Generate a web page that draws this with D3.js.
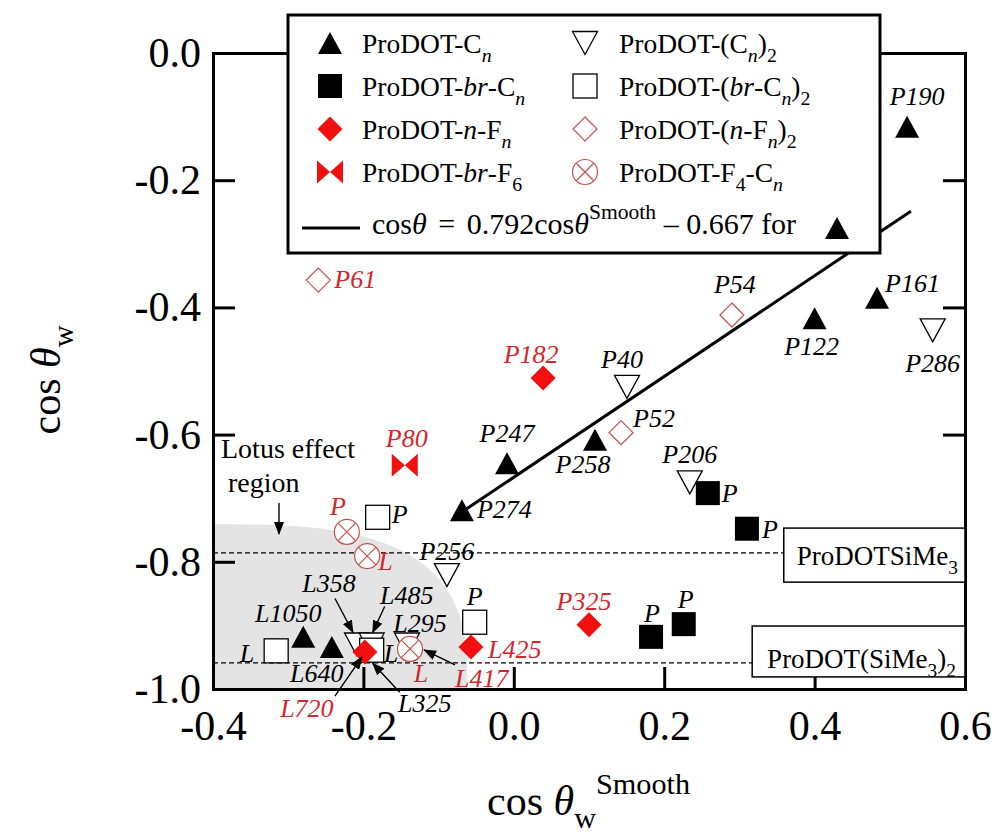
<!DOCTYPE html>
<html>
<head>
<meta charset="utf-8">
<script src="https://cdn.jsdelivr.net/npm/d3@7"></script>
<style>
  body { margin: 0; background: #fff; }
  svg { display: block; font-family: "Liberation Serif", "Times New Roman", serif; }
</style>
</head>
<body>
<svg id="chart" width="997" height="837"></svg>
<script>
// ---- data ----
const xTicks = [-0.4, -0.2, 0.0, 0.2, 0.4, 0.6];
const xTickLabels = ["-0.4", "-0.2", "0.0", "0.2", "0.4", "0.6"];
const yTicks = [0.0, -0.2, -0.4, -0.6, -0.8, -1.0];
const yTickLabels = ["0.0", "-0.2", "-0.4", "-0.6", "-0.8", "-1.0"];

// ProDOT-Cn (filled triangles)
const cnX = [0.523, 0.483, 0.400, -0.009, 0.108, -0.069, -0.280, -0.242];
const cnY = [-0.116, -0.385, -0.417, -0.645, -0.608, -0.719, -0.918, -0.934];
const cnLabels = ["P190", "P161", "P122", "P247", "P258", "P274", "L1050", "L640"];

// ProDOT-(Cn)2 (open down triangles)
const cn2X = [0.557, 0.1505, 0.234, -0.089, -0.2085, -0.189, -0.142];
const cn2Y = [-0.436, -0.525, -0.675, -0.821, -0.930, -0.930, -0.930];
const cn2Labels = ["P286", "P40", "P206", "P256", "L358", "L485", "L295"];

// ProDOT-br-Cn (filled squares)
const brcnX = [0.258, 0.310, 0.1825, 0.226];
const brcnY = [-0.692, -0.748, -0.918, -0.898];
const brcnLabels = ["P", "P", "P", "P"];

// ProDOT-(br-Cn)2 (open squares)
const brcn2X = [-0.316, -0.189, -0.052, -0.181];
const brcn2Y = [-0.940, -0.939, -0.895, -0.730];
const brcn2Labels = ["L", "L", "P", "P"];

// ProDOT-n-Fn (filled red diamonds)
const nfnX = [0.039, 0.100, -0.057, -0.198];
const nfnY = [-0.511, -0.899, -0.934, -0.942];
const nfnLabels = ["P182", "P325", "L425", "L720"];

// ProDOT-(n-Fn)2 (open diamonds)
const nfn2X = [-0.260, 0.290, 0.1426];
const nfn2Y = [-0.357, -0.412, -0.597];
const nfn2Labels = ["P61", "P54", "P52"];

// ProDOT-br-F6 (bowtie)
const brf6X = [-0.145];
const brf6Y = [-0.648];
const brf6Labels = ["P80"];

// ProDOT-F4-Cn (circled cross)
const f4cnX = [-0.222, -0.195, -0.138];
const f4cnY = [-0.753, -0.791, -0.937];
const f4cnLabels = ["P", "L", "L"];

// fit: cos = 0.792 cos_smooth - 0.667, drawn over the triangle range
const fitSlope = 0.792, fitIntercept = -0.667;
const fitRange = [-0.069, 0.528];

// reference levels
const siMe3Level = -0.786;
const siMe3x2Level = -0.959;

// lotus effect region (corner of plot)
const lotusRX = 0.338, lotusRY = 0.259;

// ---- layout ----
const RED = "#f20f0f", LABEL_RED = "#d5262b", PALE = "#c0504d";
const svg = d3.select("#chart");
const x = d3.scaleLinear().domain([-0.4, 0.6]).range([213, 965]);
const y = d3.scaleLinear().domain([-1, 0]).range([689, 53]);

// label offsets in px relative to marker: dx, dy (baseline), anchor, colour, arrow [x1,y1,x2,y2]
const cnPos = [
  {dx: 10, dy: -22, a: "middle"}, {dx: 8, dy: -6, a: "start"}, {dx: -3, dy: 37, a: "middle"},
  {dx: 0, dy: -21, a: "middle"}, {dx: -12, dy: 33, a: "middle"}, {dx: 15, dy: 8, a: "start"},
  {dx: -15, dy: -15, a: "middle"}, {dx: -15, dy: 35, a: "middle"}
];
const cn2Pos = [
  {dx: 0, dy: 42, a: "middle"}, {dx: -5, dy: -19, a: "middle"}, {dx: 0, dy: -19, a: "middle"},
  {dx: 0, dy: -15, a: "middle"},
  {dx: -28, dy: -52, a: "middle", arr: [-22, -46, -4, -12]},
  {dx: 35, dy: -40, a: "middle", arr: [13, -38, 1, -12]},
  {dx: 13, dy: -12, a: "middle"}
];
const brcnPos = [
  {dx: 14, dy: 9, a: "start"}, {dx: 15, dy: 9, a: "start"},
  {dx: 1, dy: -15, a: "middle"}, {dx: 2, dy: -16, a: "middle"}
];
const brcn2Pos = [
  {dx: -22, dy: 11, a: "end"}, {dx: 12, dy: 12, a: "start"},
  {dx: 0, dy: -17, a: "middle"}, {dx: 14, dy: 6, a: "start"}
];
const nfnPos = [
  {dx: -12, dy: -15, a: "middle"}, {dx: -5, dy: -15, a: "middle"}, {dx: 17, dy: 11, a: "start"},
  {dx: -58, dy: 65, a: "middle", arr: [-30, 44, -3, 5]}
];
const nfn2Pos = [
  {dx: 16, dy: 8, a: "start"}, {dx: 3, dy: -22, a: "middle", c: "#000"}, {dx: 12, dy: -6, a: "start", c: "#000"}
];
const brf6Pos = [{dx: 2, dy: -18, a: "middle"}];
const f4cnPos = [
  {dx: -9, dy: -17, a: "middle"}, {dx: 11, dy: 14, a: "start"}, {dx: 11, dy: 33, a: "middle"}
];

const series = [
  {name: "cn2", kind: "triDown", xs: cn2X, ys: cn2Y, labels: cn2Labels, pos: cn2Pos, color: "#000"},
  {name: "brcn2", kind: "sqOpen", xs: brcn2X, ys: brcn2Y, labels: brcn2Labels, pos: brcn2Pos, color: "#000"},
  {name: "cn", kind: "triUp", xs: cnX, ys: cnY, labels: cnLabels, pos: cnPos, color: "#000"},
  {name: "brcn", kind: "sqFill", xs: brcnX, ys: brcnY, labels: brcnLabels, pos: brcnPos, color: "#000"},
  {name: "nfn", kind: "diaFill", xs: nfnX, ys: nfnY, labels: nfnLabels, pos: nfnPos, color: LABEL_RED},
  {name: "nfn2", kind: "diaOpen", xs: nfn2X, ys: nfn2Y, labels: nfn2Labels, pos: nfn2Pos, color: LABEL_RED},
  {name: "brf6", kind: "bowtie", xs: brf6X, ys: brf6Y, labels: brf6Labels, pos: brf6Pos, color: LABEL_RED},
  {name: "f4cn", kind: "otimes", xs: f4cnX, ys: f4cnY, labels: f4cnLabels, pos: f4cnPos, color: LABEL_RED}
];

// extra labels pointing at existing points
const extraNotes = [
  {text: "L325", series: "brcn2", idx: 1, dx: 53, dy: 62, a: "middle", c: "#000", arr: [28, 42, 1, 13]},
  {text: "L417", series: "f4cn", idx: 2, dx: 45, dy: 38, a: "start", c: LABEL_RED, arr: [45, 16, 14, 1]}
];

// arrow head
svg.append("defs").append("marker")
  .attr("id", "arrow")
  .attr("markerUnits", "userSpaceOnUse")
  .attr("markerWidth", 14).attr("markerHeight", 10)
  .attr("refX", 12).attr("refY", 5)
  .attr("orient", "auto")
  .append("path").attr("d", "M0,0L13,5L0,10Z").attr("fill", "#000");

// marker shapes
function drawMarker(g, kind, cx, cy) {
  const m = g.append("g").attr("transform", `translate(${cx},${cy})`);
  if (kind === "triUp") {
    m.append("path").attr("d", "M0,-11L12,11L-12,11Z").attr("fill", "#000");
  } else if (kind === "triDown") {
    m.append("path").attr("d", "M-12.5,-11.5L12.5,-11.5L0,11.5Z")
      .attr("fill", "#fff").attr("stroke", "#000").attr("stroke-width", 1.3);
  } else if (kind === "sqFill") {
    m.append("rect").attr("x", -12).attr("y", -12).attr("width", 24).attr("height", 24).attr("fill", "#000");
  } else if (kind === "sqOpen") {
    m.append("rect").attr("x", -12).attr("y", -12).attr("width", 24).attr("height", 24)
      .attr("fill", "#fff").attr("stroke", "#000").attr("stroke-width", 1.3);
  } else if (kind === "diaFill") {
    m.append("path").attr("d", "M0,-12.5L12.5,0L0,12.5L-12.5,0Z").attr("fill", RED);
  } else if (kind === "diaOpen") {
    m.append("path").attr("d", "M0,-12L12,0L0,12L-12,0Z")
      .attr("fill", "#fff").attr("stroke", PALE).attr("stroke-width", 1.2);
  } else if (kind === "bowtie") {
    m.append("path").attr("d", "M-13,-11.5L0,0L-13,11.5ZM13,-11.5L0,0L13,11.5Z").attr("fill", RED);
  } else if (kind === "otimes") {
    m.append("circle").attr("r", 12.5).attr("fill", "#fff")
      .attr("stroke", PALE).attr("stroke-width", 1.2);
    m.append("path").attr("d", "M-8.5,-8.5L8.5,8.5M8.5,-8.5L-8.5,8.5")
      .attr("stroke", PALE).attr("stroke-width", 1.2);
  }
}

// rich text: parts = [[text, style, dx]], style in "", "it", "sub", "subit", "sup"
function richText(sel, parts, size) {
  let shift = 0;
  parts.forEach(([t, k, dx]) => {
    const ts = sel.append("tspan").text(t);
    let target = 0;
    if (k.startsWith("sub")) target = size * 0.32;
    if (k === "sup") target = -size * 0.5;
    ts.attr("dy", target - shift);
    if (dx) ts.attr("dx", dx);
    shift = target;
    if (k.startsWith("sub") || k === "sup") ts.attr("font-size", size * 0.72);
    if (k.includes("it")) ts.attr("font-style", "italic");
  });
  return sel;
}

// ---- background: lotus region ----
const lotusPts = d3.range(0, 61).map(i => {
  const t = i / 60 * Math.PI / 2;
  return [-0.4 + lotusRX * Math.pow(Math.cos(t), 2 / 3), -1 + lotusRY * Math.pow(Math.sin(t), 2 / 3)];
});
lotusPts.push([-0.4, -1]);
svg.append("path")
  .attr("d", d3.line().x(d => x(d[0])).y(d => y(d[1]))(lotusPts) + "Z")
  .attr("fill", "#e4e4e4");

// dashed reference lines
[siMe3Level, siMe3x2Level].forEach(v => {
  svg.append("line")
    .attr("x1", x(-0.4)).attr("x2", x(0.6))
    .attr("y1", y(v)).attr("y2", y(v))
    .attr("stroke", "#000").attr("stroke-width", 1.2)
    .attr("stroke-dasharray", "5,3");
});

// fit line
svg.append("line")
  .attr("x1", x(fitRange[0])).attr("y1", y(fitSlope * fitRange[0] + fitIntercept))
  .attr("x2", x(fitRange[1])).attr("y2", y(fitSlope * fitRange[1] + fitIntercept))
  .attr("stroke", "#000").attr("stroke-width", 3);

// ---- axes (ticks inward) ----
const axisStyle = g => {
  g.attr("font-family", null);
  g.select(".domain").attr("stroke-width", 3).attr("stroke-linecap", "square");
  g.selectAll(".tick line").attr("stroke-width", 3);
  g.selectAll(".tick text")
    .attr("font-family", "Liberation Serif, Times New Roman, serif")
    .attr("font-size", 42).attr("fill", "#000");
};
svg.append("g")
  .attr("transform", `translate(0,${y(-1)})`)
  .call(d3.axisBottom(x).tickValues(xTicks).tickFormat((d, i) => xTickLabels[i])
    .tickSizeInner(-22).tickSizeOuter(0).tickPadding(21))
  .call(axisStyle);
svg.append("g")
  .attr("transform", `translate(${x(-0.4)},0)`)
  .call(d3.axisLeft(y).tickValues(yTicks).tickFormat((d, i) => yTickLabels[i])
    .tickSizeInner(-22).tickSizeOuter(0).tickPadding(12))
  .call(axisStyle);
svg.append("g")
  .attr("transform", `translate(${x(0.6)},0)`)
  .call(d3.axisRight(y).tickValues(yTicks).tickFormat("").tickSizeInner(-22).tickSizeOuter(0))
  .call(axisStyle);
svg.append("g")
  .attr("transform", `translate(0,${y(0)})`)
  .call(d3.axisTop(x).tickValues(xTicks).tickFormat("").tickSizeInner(-22).tickSizeOuter(0))
  .call(axisStyle);

// ---- markers ----
const marks = svg.append("g");
series.forEach(s => {
  s.xs.forEach((v, i) => drawMarker(marks, s.kind, x(v), y(s.ys[i])));
});

// ---- point labels ----
const labels = svg.append("g").attr("font-style", "italic").attr("font-size", 26);
function drawLabel(text, px, py, p, color) {
  labels.append("text")
    .attr("x", px + p.dx).attr("y", py + p.dy)
    .attr("text-anchor", p.a)
    .attr("fill", p.c || color)
    .text(text);
  if (p.arr) {
    labels.append("line")
      .attr("x1", px + p.arr[0]).attr("y1", py + p.arr[1])
      .attr("x2", px + p.arr[2]).attr("y2", py + p.arr[3])
      .attr("stroke", "#000").attr("stroke-width", 1.4)
      .attr("marker-end", "url(#arrow)");
  }
}
series.forEach(s => {
  s.labels.forEach((t, i) => drawLabel(t, x(s.xs[i]), y(s.ys[i]), s.pos[i], s.color));
});
extraNotes.forEach(n => {
  const s = series.find(d => d.name === n.series);
  drawLabel(n.text, x(s.xs[n.idx]), y(s.ys[n.idx]), n, n.c);
});

// lotus region note
const lotusText = svg.append("text").attr("font-size", 28).attr("fill", "#000");
lotusText.append("tspan").attr("x", 221).attr("y", 458).text("Lotus effect");
lotusText.append("tspan").attr("x", 228).attr("y", 492).text("region");
svg.append("line")
  .attr("x1", 279).attr("y1", 503).attr("x2", 279).attr("y2", 534)
  .attr("stroke", "#000").attr("stroke-width", 1.4)
  .attr("marker-end", "url(#arrow)");

// reference boxes
function refBox(x0, yTop, yBot, parts, base) {
  const bx = x(x0), by = y(yTop), bw = x(0.6) - x(x0), bh = y(yBot) - y(yTop);
  svg.append("rect").attr("x", bx).attr("y", by).attr("width", bw).attr("height", bh)
    .attr("fill", "#fff").attr("stroke", "#000").attr("stroke-width", 1.5);
  richText(svg.append("text")
    .attr("x", bx + bw / 2 + 3).attr("y", by + base)
    .attr("text-anchor", "middle").attr("font-size", 27), parts, 27);
}
refBox(0.359, -0.747, -0.832, [["ProDOTSiMe", ""], ["3", "sub"]], 37);
refBox(0.317, -0.901, -0.981, [["ProDOT(SiMe", ""], ["3", "sub"], [")", ""], ["2", "sub"]], 42);

// ---- axis titles ----
richText(svg.append("text")
  .attr("transform", "translate(60,380) rotate(-90)")
  .attr("text-anchor", "middle").attr("font-size", 42),
  [["cos ", ""], ["θ", "it"], ["w", "sub"]], 42);
richText(svg.append("text")
  .attr("x", 487).attr("y", 815).attr("font-size", 42),
  [["cos ", ""], ["θ", "it"], ["w", "sub"], ["Smooth", "sup"]], 42);

// ---- legend ----
const legend = svg.append("g");
legend.append("rect").attr("x", 288).attr("y", 15).attr("width", 592).attr("height", 238)
  .attr("fill", "#fff").attr("stroke", "#000").attr("stroke-width", 3);

const legendLeft = [
  ["triUp", [["ProDOT-C", ""], ["n", "subit"]]],
  ["sqFill", [["ProDOT-", ""], ["br", "it"], ["-C", ""], ["n", "subit"]]],
  ["diaFill", [["ProDOT-", ""], ["n", "it"], ["-F", ""], ["n", "subit"]]],
  ["bowtie", [["ProDOT-", ""], ["br", "it"], ["-F", ""], ["6", "sub"]]]
];
const legendRight = [
  ["triDown", [["ProDOT-(C", ""], ["n", "subit"], [")", ""], ["2", "sub"]]],
  ["sqOpen", [["ProDOT-(", ""], ["br", "it"], ["-C", ""], ["n", "subit"], [")", ""], ["2", "sub"]]],
  ["diaOpen", [["ProDOT-(", ""], ["n", "it"], ["-F", ""], ["n", "subit"], [")", ""], ["2", "sub"]]],
  ["otimes", [["ProDOT-F", ""], ["4", "sub"], ["-C", ""], ["n", "subit"]]]
];
const rowY = [43, 86, 129, 172];
[[legendLeft, 330, 362], [legendRight, 585, 619]].forEach(([rows, sx, tx]) => {
  rows.forEach(([kind, parts], i) => {
    drawMarker(legend, kind, sx, rowY[i]);
    richText(legend.append("text").attr("x", tx).attr("y", rowY[i] + 10).attr("font-size", 27.5), parts, 27.5);
  });
});
legend.append("line").attr("x1", 302).attr("x2", 360).attr("y1", 228).attr("y2", 228)
  .attr("stroke", "#000").attr("stroke-width", 3);
richText(legend.append("text").attr("x", 372).attr("y", 234).attr("font-size", 30),
  [["cos", ""], ["θ", "it"], [" = ", "", 4], ["0.792cos", "", 4], ["θ", "it"], ["Smooth", "sup"], [" – 0.667 for", ""]], 30);
drawMarker(legend, "triUp", 837, 228);
</script>
</body>
</html>
